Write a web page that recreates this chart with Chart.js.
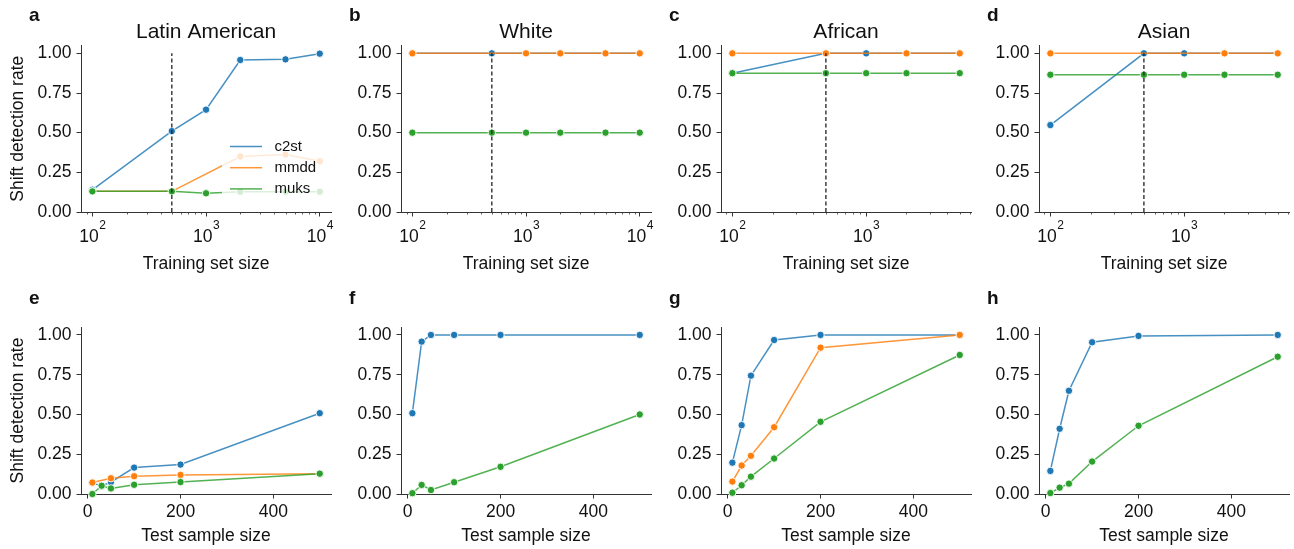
<!DOCTYPE html>
<html>
<head>
<meta charset="utf-8">
<script src="https://cdn.jsdelivr.net/npm/chart.js@4.4.1/dist/chart.umd.min.js"></script>
<style>
  html, body { margin: 0; padding: 0; background: #fff; }
  #fig { position: relative; width: 1294px; height: 549px; overflow: hidden; }
  canvas { position: absolute; }
</style>
</head>
<body>
<div id="fig">
  <canvas id="pa" width="336" height="275" style="left:0px;top:0px"></canvas>
  <canvas id="pb" width="336" height="275" style="left:320px;top:0px"></canvas>
  <canvas id="pc" width="336" height="275" style="left:640px;top:0px"></canvas>
  <canvas id="pd" width="336" height="275" style="left:958px;top:0px"></canvas>
  <canvas id="pe" width="336" height="274" style="left:0px;top:275px"></canvas>
  <canvas id="pf" width="336" height="274" style="left:320px;top:275px"></canvas>
  <canvas id="pg" width="336" height="274" style="left:640px;top:275px"></canvas>
  <canvas id="ph" width="336" height="274" style="left:958px;top:275px"></canvas>
</div>
<script>
// x values
const trainSizesLong = [100, 500, 1000, 2000, 5000, 10000];
const trainSizesShort = [100, 500, 1000, 2000, 5000];
const testSizes = [10, 30, 50, 100, 200, 500];

// training set size panels (null = no point)
const latinTrainC2st = [0.14, 0.51, 0.645, 0.958, 0.962, 0.998];
const latinTrainMmdd = [0.13, 0.13, null, 0.35, 0.362, 0.32];
const latinTrainMuks = [0.13, 0.13, 0.118, 0.128, 0.128, 0.128];

const whiteTrainC2st = [1, 1, 1, 1, 1, 1];
const whiteTrainMmdd = [1, null, 1, 1, 1, 1];
const whiteTrainMuks = [0.5, 0.5, 0.5, 0.5, 0.5, 0.5];

const africanTrainC2st = [0.875, 1, 1, 1, 1];
const africanTrainMmdd = [1, 1, null, 1, 1];
const africanTrainMuks = [0.875, 0.875, 0.875, 0.875, 0.875];

const asianTrainC2st = [0.548, 1, 1, 1, 1];
const asianTrainMmdd = [1, null, null, 1, 1];
const asianTrainMuks = [0.865, 0.865, 0.865, 0.865, 0.865];

// test sample size panels
const latinTestC2st = [0.07, 0.05, 0.075, 0.166, 0.185, 0.508];
const latinTestMmdd = [0.072, null, 0.099, 0.112, 0.12, 0.128];
const latinTestMuks = [0, 0.052, 0.035, 0.058, 0.075, 0.128];

const whiteTestC2st = [0.508, 0.958, 1, 1, 1, 1];
const whiteTestMuks = [0.005, 0.057, 0.025, 0.074, 0.171, 0.5];

const africanTestC2st = [0.197, 0.433, 0.744, 0.968, 1, 1];
const africanTestMmdd = [0.078, 0.179, 0.24, 0.42, 0.92, 1];
const africanTestMuks = [0.008, 0.055, 0.109, 0.223, 0.454, 0.874];

const asianTestC2st = [0.145, 0.41, 0.649, 0.954, 0.994, 1];
const asianTestMuks = [0.006, 0.04, 0.065, 0.204, 0.429, 0.863];

// dashed reference line (training size used below)
const cutoffX = [500, 500];
const cutoffY = [0, 1];

// ticks / labels
const yTicks = [0, 0.25, 0.5, 0.75, 1.0];
const logMajorTicks = [100, 1000, 10000];
const logMinorTicks = [90, 200, 300, 400, 500, 600, 700, 800, 900, 2000, 3000, 4000, 5000, 6000, 7000, 8000, 9000];
const linearXTicks = [0, 200, 400];
const seriesNames = ['c2st', 'mmdd', 'muks'];

const FONT = '"Liberation Sans", Arial, sans-serif';
const AXIS = '#333';
const TEXT = '#111';
const pointColors = ['#1f77b4', '#ff7f0e', '#2ca02c'];
const lineColors = ['rgba(31,119,180,0.82)', 'rgba(255,127,14,0.82)', 'rgba(44,160,44,0.82)'];

Chart.defaults.font.family = FONT;
Chart.defaults.color = TEXT;

const panels = [
  {id: 'pa', letter: 'a', title: 'Latin American', row: 0, xs: trainSizesLong, series: [latinTrainC2st, latinTrainMmdd, latinTrainMuks], yTitle: true, legend: true},
  {id: 'pb', letter: 'b', title: 'White', row: 0, xs: trainSizesLong, series: [whiteTrainC2st, whiteTrainMmdd, whiteTrainMuks]},
  {id: 'pc', letter: 'c', title: 'African', row: 0, xs: trainSizesShort, series: [africanTrainC2st, africanTrainMmdd, africanTrainMuks]},
  {id: 'pd', letter: 'd', title: 'Asian', row: 0, xs: trainSizesShort, series: [asianTrainC2st, asianTrainMmdd, asianTrainMuks]},
  {id: 'pe', letter: 'e', row: 1, xs: testSizes, series: [latinTestC2st, latinTestMmdd, latinTestMuks], yTitle: true},
  {id: 'pf', letter: 'f', row: 1, xs: testSizes, series: [whiteTestC2st, null, whiteTestMuks]},
  {id: 'pg', letter: 'g', row: 1, xs: testSizes, series: [africanTestC2st, africanTestMmdd, africanTestMuks]},
  {id: 'ph', letter: 'h', row: 1, xs: testSizes, series: [asianTestC2st, null, asianTestMuks]}
];

// titles, panel letters, legend, log tick labels
const decor = {
  id: 'decor',
  afterDatasetsDraw(chart, args, o) {
    if (!o.legend) return;
    const ctx = chart.ctx;
    ctx.save();
    ctx.fillStyle = 'rgba(255,255,255,0.8)';
    ctx.fillRect(222, 134, 108, 66);
    seriesNames.forEach((name, i) => {
      const y = 146.5 + i * 21.2;
      ctx.strokeStyle = lineColors[i];
      ctx.lineWidth = 1.5;
      ctx.beginPath();
      ctx.moveTo(230, y);
      ctx.lineTo(262, y);
      ctx.stroke();
      ctx.fillStyle = TEXT;
      ctx.font = '15px ' + FONT;
      ctx.textAlign = 'left';
      ctx.textBaseline = 'middle';
      ctx.fillText(name, 274.5, y);
    });
    ctx.restore();
  },
  afterDraw(chart, args, o) {
    const ctx = chart.ctx;
    const ca = chart.chartArea;
    const cx = (ca.left + ca.right) / 2;
    ctx.save();
    ctx.fillStyle = TEXT;
    ctx.textBaseline = 'alphabetic';

    ctx.font = 'bold 19px ' + FONT;
    ctx.textAlign = 'left';
    ctx.fillText(o.letter, 29, o.top ? 21 : 28.5);

    if (o.title) {
      ctx.font = '21px ' + FONT;
      ctx.textAlign = 'center';
      ctx.fillText(o.title, cx, 37.5);
    }

    ctx.font = '17.5px ' + FONT;
    ctx.textAlign = 'center';
    ctx.fillText(o.top ? 'Training set size' : 'Test sample size', cx, o.top ? 269 : 265.5);

    if (o.top) {
      const xs = chart.scales.x;
      // minor ticks
      ctx.strokeStyle = AXIS;
      ctx.lineWidth = 0.8;
      logMinorTicks.filter(v => v >= xs.min && v <= xs.max).forEach(v => {
        const px = Math.round(xs.getPixelForValue(v)) + 0.5;
        ctx.beginPath();
        ctx.moveTo(px, ca.bottom);
        ctx.lineTo(px, ca.bottom + 2.5);
        ctx.stroke();
      });
      // 10^n labels
      logMajorTicks.filter(v => v >= xs.min && v <= xs.max).forEach(v => {
        const px = xs.getPixelForValue(v);
        const exp = String(Math.round(Math.log10(v)));
        ctx.font = '17.5px ' + FONT;
        const w1 = ctx.measureText('10').width;
        ctx.font = '12px ' + FONT;
        const w2 = ctx.measureText(exp).width;
        const x0 = px - (w1 + w2) / 2;
        ctx.textAlign = 'left';
        ctx.font = '17.5px ' + FONT;
        ctx.fillText('10', x0, 241.7);
        ctx.font = '12px ' + FONT;
        ctx.fillText(exp, x0 + w1 + 0.5, 228.5);
      });
    }

    if (o.yTitle) {
      ctx.font = '17.5px ' + FONT;
      ctx.textAlign = 'center';
      ctx.translate(23, (ca.top + ca.bottom) / 2);
      ctx.rotate(-Math.PI / 2);
      ctx.fillText('Shift detection rate', 0, 0);
    }
    ctx.restore();
  }
};

function axisStyle() {
  return {
    grid: {display: true, drawOnChartArea: false, drawTicks: true, tickLength: 4.5, color: AXIS, lineWidth: 1},
    border: {display: true, color: AXIS, width: 1}
  };
}

function buildChart(p) {
  const top = p.row === 0;
  const datasets = [];
  p.series.forEach((vals, i) => {
    if (!vals) return;
    datasets.push({
      label: seriesNames[i],
      data: p.xs.map((x, k) => ({x: x, y: vals[k]})),
      borderColor: lineColors[i],
      backgroundColor: pointColors[i],
      pointBackgroundColor: pointColors[i],
      pointBorderColor: '#fff',
      pointBorderWidth: 0.9,
      pointRadius: 3.7,
      borderWidth: 1.5,
      spanGaps: true,
      tension: 0,
      clip: false,
      order: 4 - i
    });
  });
  if (top) {
    datasets.push({
      label: 'cutoff',
      data: cutoffX.map((x, k) => ({x: x, y: cutoffY[k]})),
      borderColor: '#222',
      borderWidth: 1.3,
      borderDash: [4, 2.5],
      pointRadius: 0,
      clip: false,
      order: 0
    });
  }

  const xmin = Math.min(...p.xs), xmax = Math.max(...p.xs);
  let xScale;
  if (top) {
    const lo = Math.log10(xmin), hi = Math.log10(xmax), m = 0.05 * (hi - lo);
    xScale = Object.assign({
      type: 'logarithmic',
      min: Math.pow(10, lo - m),
      max: Math.pow(10, hi + m),
      afterBuildTicks: s => { s.ticks = logMajorTicks.filter(v => v >= s.min && v <= s.max).map(v => ({value: v})); },
      ticks: {display: false},
      afterFit: s => { s.height = 40; s.paddingLeft = 0; s.paddingRight = 0; }
    }, axisStyle());
  } else {
    const m = 0.05 * (xmax - xmin);
    xScale = Object.assign({
      type: 'linear',
      min: xmin - m,
      max: xmax + m,
      afterBuildTicks: s => { s.ticks = linearXTicks.map(v => ({value: v})); },
      ticks: {font: {size: 17.5}, padding: 3, maxRotation: 0, autoSkip: false, color: TEXT},
      afterFit: s => { s.height = 40; s.paddingLeft = 0; s.paddingRight = 0; }
    }, axisStyle());
  }

  const yScale = Object.assign({
    type: 'linear',
    min: 0,
    max: 1.05,
    afterBuildTicks: s => { s.ticks = yTicks.map(v => ({value: v})); },
    ticks: {font: {size: 17.5}, padding: 5, autoSkip: false, color: TEXT, callback: v => Number(v).toFixed(2)},
    afterFit: s => { s.width = 81; s.paddingTop = 0; s.paddingBottom = 0; }
  }, axisStyle());

  new Chart(document.getElementById(p.id), {
    type: 'line',
    data: {datasets: datasets},
    options: {
      responsive: false,
      animation: false,
      devicePixelRatio: 1,
      layout: {padding: top ? {left: 0, right: 4, top: 45.4, bottom: 23} : {left: 0, right: 4, top: 52, bottom: 15}},
      plugins: {
        legend: {display: false},
        tooltip: {enabled: false},
        decor: {letter: p.letter, title: p.title, top: top, yTitle: !!p.yTitle, legend: !!p.legend}
      },
      scales: {x: xScale, y: yScale}
    },
    plugins: [decor]
  });
}

panels.forEach(buildChart);
</script>
</body>
</html>
